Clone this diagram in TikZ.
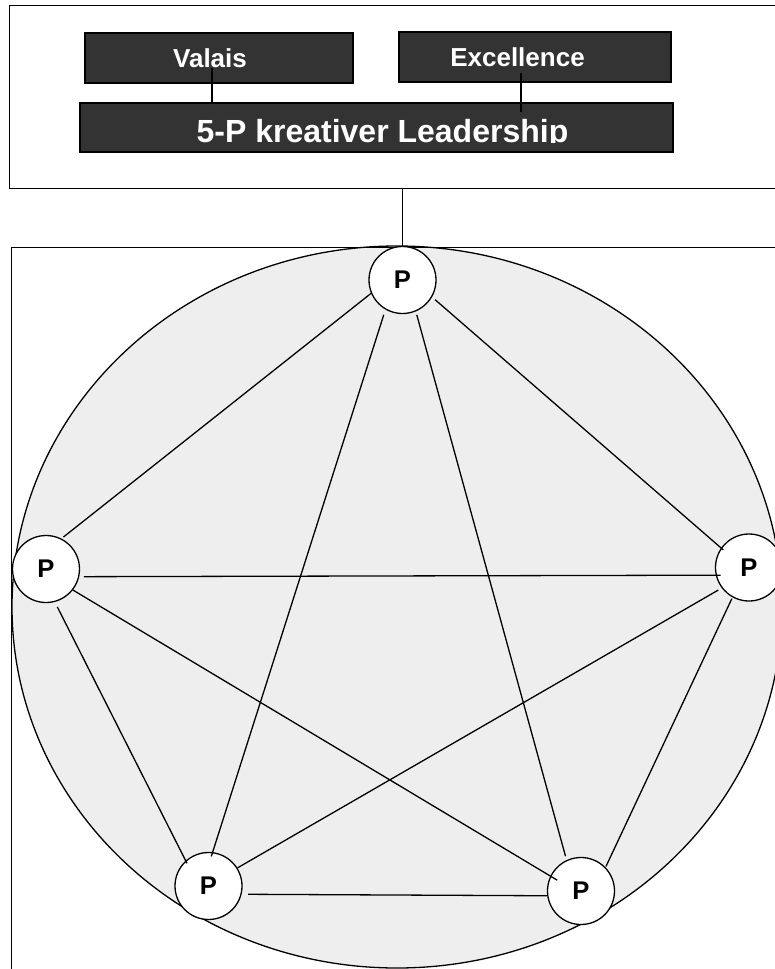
\documentclass[tikz,border=0pt]{standalone}
\usepackage{fontspec}
\setmainfont{Liberation Sans}
\definecolor{boxdark}{HTML}{333333}
\definecolor{disc}{HTML}{EEEEEE}
\begin{document}
\begin{tikzpicture}[x=1pt,y=-1pt,
  frame/.style={draw=black, line width=1.3pt, inner sep=0pt, anchor=north west},
  darkbox/.style={draw=black, line width=1.1pt, fill=boxdark, text=white, inner sep=0pt, font=\bfseries\fontsize{26}{30}\selectfont},
  pnode/.style={circle, draw=black, line width=1.3pt, fill=white, minimum size=67pt, inner sep=0pt, font=\bfseries\fontsize{25.6}{30}\selectfont},
  link/.style={draw=black, line width=1.3pt}]
\useasboundingbox (0,0) rectangle (774,969);

% upper frame with the dark boxes
\node[frame, minimum width=800pt, minimum height=183pt] (topbox) at (9,5) {};
\node[darkbox, minimum width=268pt, minimum height=50pt] (valais) at (219,58) {\hspace*{-18pt}Valais};
\node[darkbox, minimum width=272pt, minimum height=50pt] (excel) at (535,57) {\hspace*{-35pt}Excellence};
\node[darkbox, minimum width=593pt, minimum height=49pt] (lead) at (376.5,127.5) {};
\begin{scope}
  \clip (80,100) rectangle (680,142.7);
  \node[anchor=base, inner sep=0pt, text=white, font=\bfseries\fontsize{32}{38}\selectfont] (leadtext) at (382.5,142.7) {5-P kreativer Leadership};
\end{scope}
\coordinate (vtop) at (212,68);
\coordinate (etop) at (521,73);
\coordinate (ebot) at (521,112);
\draw[link, line width=1.1pt] (vtop) -- (vtop |- lead.north);
\draw[link, line width=1.1pt] (etop) -- (ebot);

% big disc
\draw[fill=disc, line width=1.3pt] (397,607) ellipse [x radius=385pt, y radius=361pt];

% lower frame
\node[frame, minimum width=800pt, minimum height=760pt] (lowbox) at (11,247) {};

% P nodes
\node[pnode] (T) at (402.5,280) {P};
\node[pnode] (L) at (46,569) {P};
\node[pnode] (R) at (749,567.5) {P};
\node[pnode] (BL) at (208.5,886) {P};
\node[pnode] (BR) at (581,891) {P};

% connector from upper frame to top node
\draw[link] (topbox.south -| T.north) -- (T.north);

% links between the P nodes
\draw[link, shorten >=2.5pt] (T.203) -- (L.63.4);
\draw[link, shorten <=5.5pt, shorten >=-4.5pt] (T.240) -- (BL.83);
\draw[link, shorten <=3.5pt, shorten >=4pt] (T.293) -- (BR.115);
\draw[link, shorten <=4pt, shorten >=-3pt] (T.330) -- (R.145);
\draw[link, shorten <=4.5pt, shorten >=-5pt] (L.-13.7) -- (R.193);
\draw[link, shorten >=-8pt] (L.-38) -- (BR.154);
\draw[link, shorten <=5.5pt, shorten >=-3pt] (L.-75) -- (BL.132);
\draw[link, shorten <=4pt] (R.217) -- (BL.32);
\draw[link, shorten <=1.5pt, shorten >=1pt] (R.241) -- (BR.44);
\draw[link, shorten <=6.5pt] (BL.-14.6) -- (BR.188.6);
\end{tikzpicture}
\end{document}
